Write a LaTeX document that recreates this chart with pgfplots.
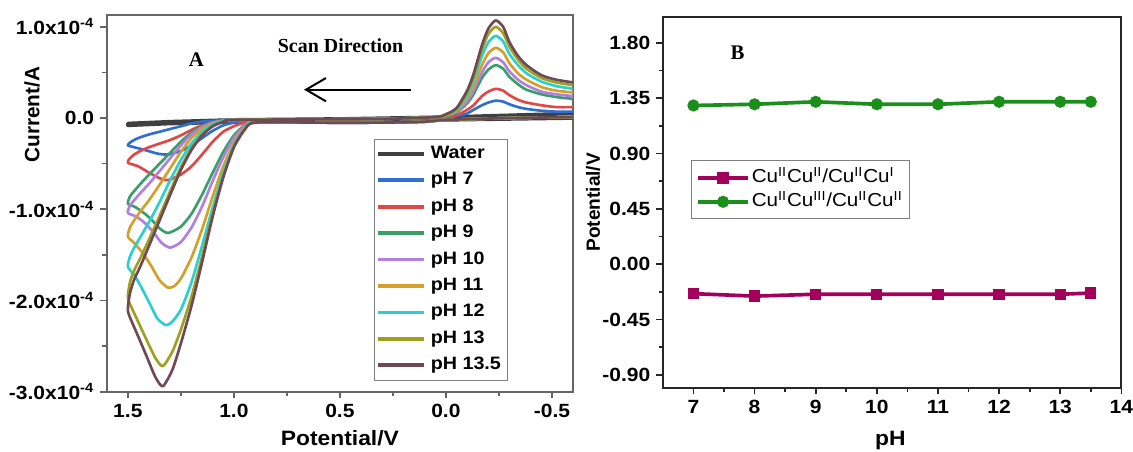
\documentclass[border=0pt]{standalone}
\usepackage{fontspec}
\setmainfont{Liberation Sans}[FakeStretch=1.1]
\newfontfamily\labelfont{Liberation Sans}
\newfontfamily\timesfont{Liberation Serif}
\usepackage{pgfplots}
\pgfplotsset{compat=1.18}
\usetikzlibrary{arrows.meta}
\definecolor{cwater}{HTML}{3F3F3F}
\definecolor{cseven}{HTML}{2F6FD0}
\definecolor{ceight}{HTML}{E04848}
\definecolor{cnine}{HTML}{3A9E6A}
\definecolor{cten}{HTML}{B07FE0}
\definecolor{celeven}{HTML}{D4A02A}
\definecolor{ctwelve}{HTML}{2AD0D0}
\definecolor{cthirteen}{HTML}{A0A020}
\definecolor{cthirteenhalf}{HTML}{6E4A55}
\definecolor{cpurp}{HTML}{A3005C}
\definecolor{cgreen}{HTML}{1A8F1A}
\begin{document}
\begin{tikzpicture}
\path[use as bounding box] (0,0) rectangle (682pt,271.8pt);
\begin{axis}[
  at={(64.2pt,36pt)}, anchor=south west,
  width=280.8pt, height=226.8pt, scale only axis,
  x dir=reverse, xmin=-0.6, xmax=1.6, ymin=-3, ymax=1.13,
  axis line style={black!60, line width=1.2pt},
  tick pos=left, tick align=outside,
  major tick length=4pt, minor tick length=2.5pt,
  tick style={black!60, line width=1pt},
  xtick={-0.5,0,0.5,1,1.5},
  minor xtick={-0.25,0.25,0.75,1.25},
  ytick={-3,-2,-1,0,1},
  minor ytick={-2.5,-1.5,-0.5,0.5},
  yticklabels={-3.0x10\textsuperscript{-4},-2.0x10\textsuperscript{-4},-1.0x10\textsuperscript{-4},0.0,1.0x10\textsuperscript{-4}},
  xticklabel style={/pgf/number format/fixed,/pgf/number format/fixed zerofill,/pgf/number format/precision=1},
  /pgf/number format/assume math mode=true,
  ticklabel style={font=\fontsize{11.5}{13}\selectfont\bfseries},
  xlabel={Potential/V},
  xlabel style={font=\fontsize{12.5}{14}\selectfont\bfseries, at={(axis description cs:0.5,-0.124)}, anchor=center},
  ylabel={Current/A},
  ylabel style={font=\labelfont\fontsize{12.5}{14}\selectfont\bfseries, at={(axis description cs:-0.16,0.735)}, anchor=center},
  legend style={at={(axis description cs:0.573,0.672)}, anchor=north west, draw=black!50, line width=0.6pt,
    font=\fontsize{10.8}{12}\selectfont\bfseries, inner sep=1pt,
    nodes={text height=8pt, text depth=2.5pt, inner sep=2.7pt}},
  legend cell align=left,
  legend image code/.code={\draw[#1, line width=2.2pt] (0pt,0pt) -- (28pt,0pt);},
  every axis plot/.append style={line width=1.6pt, line join=round},
]
\addplot[cwater, line width=2.2pt] coordinates {(-0.6,0.0) (0.0,-0.02) (0.5,-0.03) (0.9,-0.04) (1.1,-0.05) (1.3,-0.06) (1.5,-0.08) (1.5,-0.06) (1.3,-0.04) (1.0,-0.02) (0.5,-0.01) (0.0,0.01) (-0.3,0.03) (-0.6,0.05)};
\addlegendentry{Water}
\addplot[cseven, smooth, tension=0.4] coordinates {(-0.6,0.01) (-0.3,0.00) (0.0,-0.02) (0.1,-0.04) (0.3,-0.05) (0.6,-0.05) (0.90,-0.02) (0.95,-0.03) (1.00,-0.05) (1.05,-0.08) (1.10,-0.14) (1.15,-0.22) (1.20,-0.30) (1.25,-0.36) (1.31,-0.40) (1.36,-0.39) (1.42,-0.35) (1.47,-0.32) (1.50,-0.30) (1.49,-0.27) (1.47,-0.24) (1.44,-0.21) (1.40,-0.18) (1.35,-0.15) (1.30,-0.12) (1.25,-0.09) (1.20,-0.06) (1.15,-0.04) (1.10,-0.03) (1.00,-0.02) (0.6,-0.015) (0.3,-0.01) (0.05,0.00) (0.0,0.01) (-0.05,0.02) (-0.10,0.05) (-0.13,0.09) (-0.17,0.14) (-0.20,0.17) (-0.235,0.19) (-0.27,0.18) (-0.30,0.15) (-0.34,0.12) (-0.38,0.10) (-0.45,0.08) (-0.52,0.07) (-0.6,0.07)};
\addlegendentry{pH 7}
\addplot[ceight, smooth, tension=0.4] coordinates {(-0.6,0.01) (-0.3,0.00) (0.0,-0.02) (0.1,-0.04) (0.3,-0.05) (0.6,-0.05) (0.90,-0.03) (0.95,-0.05) (1.00,-0.09) (1.05,-0.15) (1.10,-0.26) (1.15,-0.40) (1.20,-0.53) (1.25,-0.62) (1.31,-0.68) (1.35,-0.66) (1.40,-0.60) (1.45,-0.53) (1.50,-0.49) (1.49,-0.44) (1.47,-0.40) (1.44,-0.36) (1.40,-0.32) (1.35,-0.28) (1.30,-0.24) (1.25,-0.19) (1.20,-0.13) (1.15,-0.08) (1.10,-0.05) (1.05,-0.03) (1.00,-0.02) (0.6,-0.015) (0.3,-0.01) (0.05,0.00) (0.0,0.01) (-0.05,0.03) (-0.10,0.09) (-0.13,0.14) (-0.17,0.24) (-0.20,0.29) (-0.235,0.32) (-0.27,0.30) (-0.30,0.25) (-0.34,0.20) (-0.38,0.17) (-0.45,0.14) (-0.52,0.12) (-0.6,0.12)};
\addlegendentry{pH 8}
\addplot[cnine, smooth, tension=0.4] coordinates {(-0.6,0.01) (-0.3,0.00) (0.0,-0.02) (0.1,-0.04) (0.3,-0.05) (0.6,-0.05) (0.90,-0.03) (0.95,-0.08) (1.00,-0.19) (1.05,-0.37) (1.10,-0.60) (1.15,-0.84) (1.20,-1.05) (1.25,-1.19) (1.31,-1.26) (1.35,-1.21) (1.39,-1.11) (1.43,-1.03) (1.47,-0.97) (1.50,-0.94) (1.49,-0.86) (1.47,-0.80) (1.44,-0.72) (1.40,-0.62) (1.35,-0.50) (1.30,-0.38) (1.25,-0.26) (1.20,-0.16) (1.15,-0.09) (1.10,-0.05) (1.05,-0.03) (1.00,-0.02) (0.6,-0.015) (0.3,-0.01) (0.05,0.01) (0.0,0.02) (-0.05,0.06) (-0.10,0.16) (-0.13,0.26) (-0.17,0.44) (-0.20,0.53) (-0.235,0.58) (-0.27,0.54) (-0.30,0.45) (-0.34,0.37) (-0.38,0.31) (-0.45,0.26) (-0.52,0.23) (-0.6,0.21)};
\addlegendentry{pH 9}
\addplot[cten, smooth, tension=0.4] coordinates {(-0.6,0.01) (-0.3,0.00) (0.0,-0.02) (0.1,-0.04) (0.3,-0.05) (0.6,-0.05) (0.90,-0.03) (0.95,-0.09) (1.00,-0.22) (1.05,-0.43) (1.10,-0.69) (1.15,-0.97) (1.20,-1.20) (1.25,-1.36) (1.30,-1.42) (1.34,-1.37) (1.38,-1.25) (1.42,-1.15) (1.46,-1.08) (1.50,-1.04) (1.49,-0.96) (1.47,-0.90) (1.44,-0.82) (1.40,-0.72) (1.35,-0.58) (1.30,-0.44) (1.25,-0.30) (1.20,-0.18) (1.15,-0.10) (1.10,-0.05) (1.05,-0.03) (1.00,-0.02) (0.6,-0.015) (0.3,-0.01) (0.05,0.01) (0.0,0.03) (-0.05,0.07) (-0.10,0.18) (-0.13,0.30) (-0.17,0.50) (-0.20,0.61) (-0.235,0.66) (-0.27,0.61) (-0.30,0.51) (-0.34,0.42) (-0.38,0.36) (-0.45,0.29) (-0.52,0.26) (-0.6,0.24)};
\addlegendentry{pH 10}
\addplot[celeven, smooth, tension=0.4] coordinates {(-0.6,0.01) (-0.3,0.00) (0.0,-0.02) (0.1,-0.04) (0.3,-0.05) (0.6,-0.05) (0.90,-0.04) (0.95,-0.11) (1.00,-0.27) (1.05,-0.53) (1.10,-0.86) (1.15,-1.22) (1.20,-1.53) (1.25,-1.76) (1.28,-1.84) (1.31,-1.86) (1.35,-1.78) (1.39,-1.62) (1.43,-1.48) (1.47,-1.37) (1.50,-1.30) (1.49,-1.20) (1.47,-1.12) (1.44,-1.02) (1.40,-0.90) (1.35,-0.73) (1.30,-0.55) (1.25,-0.37) (1.20,-0.22) (1.15,-0.12) (1.10,-0.06) (1.05,-0.03) (1.00,-0.02) (0.6,-0.015) (0.3,-0.01) (0.05,0.01) (0.0,0.03) (-0.05,0.08) (-0.10,0.22) (-0.13,0.35) (-0.17,0.58) (-0.20,0.71) (-0.235,0.77) (-0.27,0.72) (-0.30,0.60) (-0.34,0.49) (-0.38,0.42) (-0.45,0.34) (-0.52,0.30) (-0.6,0.28)};
\addlegendentry{pH 11}
\addplot[ctwelve, smooth, tension=0.4] coordinates {(-0.6,0.01) (-0.3,0.00) (0.0,-0.02) (0.1,-0.04) (0.3,-0.05) (0.6,-0.05) (0.90,-0.04) (0.95,-0.12) (1.00,-0.30) (1.05,-0.60) (1.10,-0.98) (1.15,-1.40) (1.20,-1.80) (1.25,-2.10) (1.29,-2.23) (1.32,-2.27) (1.36,-2.20) (1.40,-2.02) (1.44,-1.84) (1.47,-1.72) (1.50,-1.63) (1.49,-1.52) (1.47,-1.42) (1.44,-1.30) (1.40,-1.14) (1.35,-0.92) (1.30,-0.68) (1.25,-0.46) (1.20,-0.28) (1.15,-0.15) (1.10,-0.07) (1.05,-0.03) (1.00,-0.02) (0.6,-0.015) (0.3,-0.01) (0.05,0.01) (0.0,0.04) (-0.05,0.09) (-0.10,0.25) (-0.13,0.41) (-0.17,0.68) (-0.20,0.83) (-0.235,0.90) (-0.27,0.84) (-0.30,0.70) (-0.34,0.58) (-0.38,0.49) (-0.45,0.40) (-0.52,0.35) (-0.6,0.32)};
\addlegendentry{pH 12}
\addplot[cthirteen, smooth, tension=0.4] coordinates {(-0.6,0.01) (-0.3,0.00) (0.0,-0.02) (0.1,-0.04) (0.3,-0.05) (0.6,-0.05) (0.90,-0.05) (0.95,-0.13) (1.00,-0.32) (1.05,-0.64) (1.10,-1.05) (1.15,-1.52) (1.20,-1.96) (1.25,-2.32) (1.29,-2.56) (1.335,-2.72) (1.37,-2.63) (1.41,-2.44) (1.45,-2.24) (1.48,-2.09) (1.50,-1.97) (1.49,-1.80) (1.47,-1.67) (1.44,-1.53) (1.40,-1.33) (1.35,-1.07) (1.30,-0.80) (1.25,-0.54) (1.20,-0.33) (1.15,-0.18) (1.10,-0.09) (1.05,-0.04) (1.00,-0.02) (0.6,-0.015) (0.3,-0.01) (0.05,0.01) (0.0,0.04) (-0.05,0.10) (-0.10,0.28) (-0.13,0.45) (-0.17,0.75) (-0.20,0.92) (-0.235,1.00) (-0.27,0.93) (-0.30,0.78) (-0.34,0.64) (-0.38,0.54) (-0.45,0.44) (-0.52,0.39) (-0.6,0.36)};
\addlegendentry{pH 13}
\addplot[cthirteenhalf, smooth, tension=0.4] coordinates {(-0.6,0.01) (-0.3,0.00) (0.0,-0.02) (0.1,-0.04) (0.3,-0.05) (0.6,-0.05) (0.90,-0.05) (0.95,-0.13) (1.00,-0.32) (1.05,-0.65) (1.10,-1.08) (1.15,-1.58) (1.20,-2.06) (1.25,-2.47) (1.29,-2.76) (1.335,-2.94) (1.37,-2.84) (1.41,-2.62) (1.45,-2.40) (1.48,-2.24) (1.50,-2.11) (1.49,-1.92) (1.47,-1.77) (1.44,-1.62) (1.40,-1.40) (1.35,-1.12) (1.30,-0.84) (1.25,-0.57) (1.20,-0.35) (1.15,-0.19) (1.10,-0.09) (1.05,-0.04) (1.00,-0.02) (0.6,-0.015) (0.3,-0.01) (0.05,0.01) (0.0,0.04) (-0.05,0.11) (-0.10,0.30) (-0.13,0.48) (-0.17,0.80) (-0.20,0.98) (-0.235,1.07) (-0.27,1.00) (-0.30,0.83) (-0.34,0.68) (-0.38,0.58) (-0.45,0.47) (-0.52,0.42) (-0.6,0.39)};
\addlegendentry{pH 13.5}
\end{axis}
\node[font={\timesfont\fontsize{12.5}{15}\selectfont\bfseries}] at (118.2pt,235.8pt) {A};
\node[font={\timesfont\fontsize{12}{14}\selectfont\bfseries}] at (205pt,244.2pt) {Scan Direction};
\draw[line width=1.2pt, -{Straight Barb[length=12pt,width=14pt,line width=1.2pt]}] (247.2pt,217.8pt) -- (183pt,217.8pt);
\begin{axis}[
  at={(399pt,38.4pt)}, anchor=south west,
  width=276pt, height=223.2pt, scale only axis,
  xmin=6.5, xmax=14, ymin=-1.005, ymax=2.01,
  axis line style={black!85, line width=1.2pt},
  tick pos=left, tick align=outside,
  major tick length=4pt, minor tick length=2.5pt,
  tick style={black!85, line width=1pt},
  xtick={7,8,9,10,11,12,13,14},
  minor xtick={7.5,8.5,9.5,10.5,11.5,12.5,13.5},
  ytick={-0.9,-0.45,0,0.45,0.9,1.35,1.8},
  minor ytick={-0.675,-0.225,0.225,0.675,1.125,1.575},
  yticklabel style={/pgf/number format/fixed,/pgf/number format/fixed zerofill,/pgf/number format/precision=2},
  /pgf/number format/assume math mode=true,
  ticklabel style={font=\fontsize{11.5}{13}\selectfont\bfseries},
  xlabel={pH},
  xlabel style={font=\fontsize{12.5}{14}\selectfont\bfseries, at={(axis description cs:0.496,-0.142)}, anchor=center},
  ylabel={Potential/V},
  ylabel style={font=\labelfont\fontsize{11.5}{14}\selectfont\bfseries, at={(axis description cs:-0.152,0.5)}, anchor=center},
  legend style={at={(axis description cs:0.061,0.613)}, anchor=north west, draw=black!50, line width=0.6pt,
    font=\fontsize{11.3}{13}\selectfont, inner sep=3pt,
    nodes={text height=9pt, text depth=3pt, inner sep=1.2pt}},
  legend cell align=left,
  legend image code/.code={\draw[mark repeat=2,mark phase=2,#1] plot coordinates {(0pt,0pt) (15pt,0pt) (30pt,0pt)};},
]
\addplot[cpurp, line width=2.2pt, mark=square*, mark size=2.3pt] coordinates {(7,-0.24) (8,-0.26) (9,-0.245) (10,-0.245) (11,-0.245) (12,-0.245) (13,-0.245) (13.5,-0.235)};
\addlegendentry{Cu\textsuperscript{II}Cu\textsuperscript{II}/Cu\textsuperscript{II}Cu\textsuperscript{I}}
\addplot[cgreen, line width=2.2pt, mark=*, mark size=2.5pt] coordinates {(7,1.29) (8,1.30) (9,1.32) (10,1.30) (11,1.30) (12,1.32) (13,1.32) (13.5,1.32)};
\addlegendentry{Cu\textsuperscript{II}Cu\textsuperscript{III}/Cu\textsuperscript{II}Cu\textsuperscript{II}}
\end{axis}
\node[font={\timesfont\fontsize{12.5}{15}\selectfont\bfseries}] at (444pt,240pt) {B};
\end{tikzpicture}
\end{document}
